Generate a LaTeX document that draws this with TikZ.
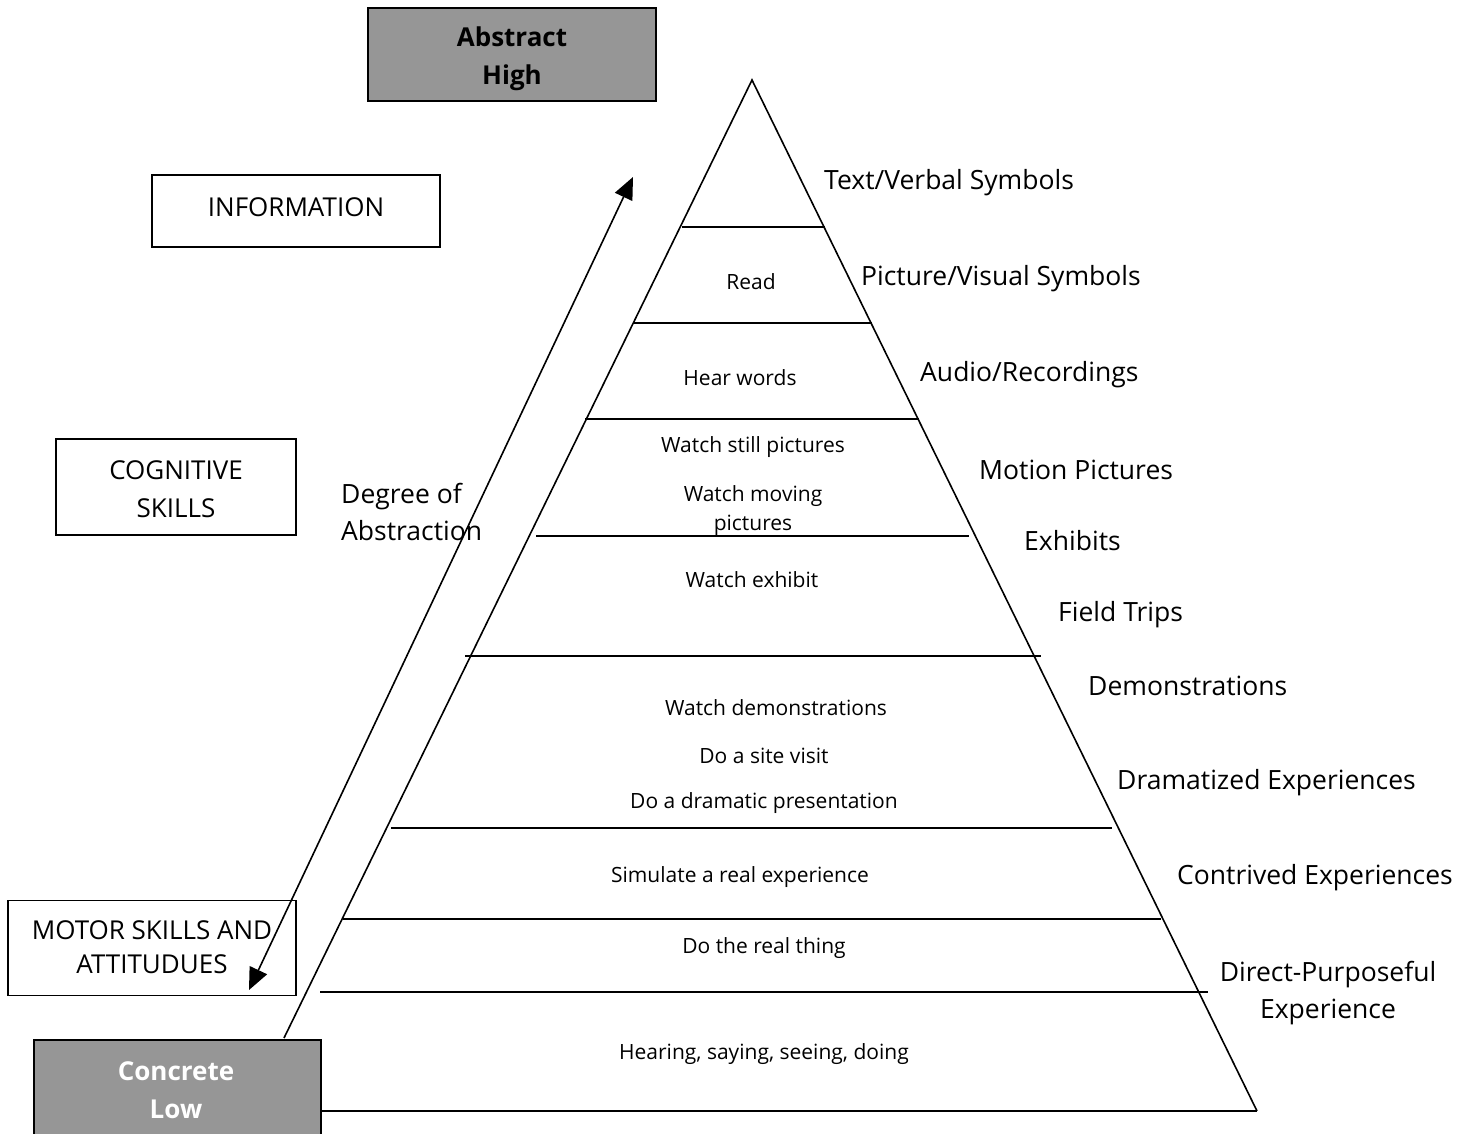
\documentclass[tikz,border=0pt]{standalone}
\usepackage{fontspec}
\setmainfont{Open Sans}
\usetikzlibrary{arrows.meta}
\definecolor{boxgray}{RGB}{150,150,150}
\begin{document}
\begin{tikzpicture}[x=1pt,y=-1pt,
  ln/.style={line width=1.6pt},
  outer/.style={font=\fontsize{26.5}{37}\selectfont,anchor=west,inner sep=0pt},
  inner/.style={font=\fontsize{21}{28}\selectfont,inner sep=0pt,yshift=-2.5pt},
  sidebox/.style={draw,line width=1.5pt,font=\fontsize{26}{37}\selectfont,align=center,inner sep=0pt},
  graybox/.style={draw,line width=1.5pt,fill=boxgray,inner sep=0pt},
  graytext/.style={font=\bfseries\fontsize{26}{38}\selectfont,align=center,inner sep=0pt}]
\useasboundingbox (0,0) rectangle (1473,1133);
% pyramid
\coordinate (apex) at (752,80);
\coordinate (bl) at (284,1038);
\coordinate (br) at (1257,1111);
\draw[ln] (bl) -- (apex) -- (br);
\draw[ln] (682,227) -- (825,227);
\draw[ln] (633,323) -- (872,323);
\draw[ln] (585,419) -- (919,419);
\draw[ln] (536,536) -- (969,536);
\draw[ln] (465,656) -- (1041,656);
\draw[ln] (391,828) -- (1112,828);
\draw[ln] (343,919) -- (1161,919);
\draw[ln] (320,992) -- (1208,992);
\draw[ln] (320,1111) -- (br);
% boxes
\node[graybox,minimum width=288pt,minimum height=93pt] (abs) at (512,54.5) {};
\node[graytext] (absT) at (512,59) {Abstract\\High};
\node[graybox,minimum width=287pt,minimum height=110pt,anchor=north west] (con) at (33,1039) {};
\node[graytext,text=white] (conT) at (176,1090) {Concrete\\Low};
\node[sidebox,minimum width=288pt,minimum height=72pt] (info) at (296,211) {};
\node[font=\fontsize{26}{37}\selectfont,inner sep=0pt] (infoT) at (296,207) {INFORMATION};
\node[sidebox,minimum width=240pt,minimum height=96pt] (cog) at (176,487) {};
\node[font=\fontsize{26}{38}\selectfont,align=center,inner sep=0pt] (cogT) at (176,489) {COGNITIVE\\SKILLS};
\node[sidebox,minimum width=288pt,minimum height=95pt] (mot) at (152,948) {};
\node[font=\fontsize{26}{34}\selectfont,align=center,inner sep=0pt] (motT) at (152,947) {MOTOR SKILLS AND\\ATTITUDUES};
% arrow
\coordinate (alow) at (249,990);
\coordinate (ahigh) at (633,177);
\draw[ln,{Triangle[length=22pt,width=19pt]}-{Triangle[length=22pt,width=19pt]}] (alow) -- (ahigh);
\node[outer,align=left] (deg) at (341,512) {Degree of\\Abstraction};
% right labels
\node[outer] (l1) at (824,183) {Text/Verbal Symbols};
\node[outer] (l2) at (861,279) {Picture/Visual Symbols};
\node[outer] (l3) at (920,375) {Audio/Recordings};
\node[outer] (l4) at (979,470) {Motion Pictures};
\node[outer] (l5) at (1024,541) {Exhibits};
\node[outer] (l6) at (1058,615) {Field Trips};
\node[outer] (l7) at (1088,686) {Demonstrations};
\node[outer] (l8) at (1117,783) {Dramatized Experiences};
\node[outer] (l9) at (1177,878) {Contrived Experiences};
\node[outer,anchor=center,align=center] (l10) at (1328,993) {Direct-Purposeful\\Experience};
% inner texts
\node[inner] (t1) at (751,279) {Read};
\node[inner] (t2) at (740,375) {Hear words};
\node[inner] (t3) at (753,445) {Watch still pictures};
\begin{scope}
\clip (540,470) rectangle (960,534);
\node[inner,align=center,font=\fontsize{21}{29}\selectfont] (t4) at (753,508) {Watch moving\\pictures};
\end{scope}
\node[inner] (t5) at (752,577) {Watch exhibit};
\node[inner] (t6) at (776,705) {Watch demonstrations};
\node[inner] (t7) at (764,753) {Do a site visit};
\node[inner] (t8) at (764,801) {Do a dramatic presentation};
\node[inner] (t9) at (740,875) {Simulate a real experience};
\node[inner] (t10) at (764,946) {Do the real thing};
\node[inner] (t11) at (764,1052) {Hearing, saying, seeing, doing};
\end{tikzpicture}
\end{document}
